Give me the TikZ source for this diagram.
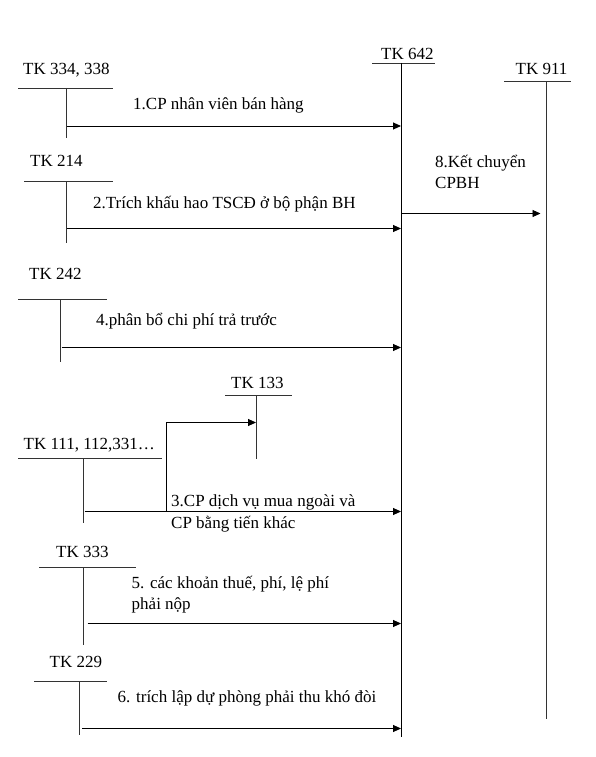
\documentclass[tikz,border=0pt]{standalone}
\usepackage{fontspec}
\setmainfont{Liberation Serif}
\usetikzlibrary{arrows.meta}
\tikzstyle{account}=[line width=0.9pt, black!80]
\tikzstyle{flow}=[line width=0.9pt, -{Triangle[length=8pt,width=7pt]}]
\tikzstyle{txt}=[inner sep=0pt, anchor=base west, font=\fontsize{17}{20}\selectfont]

\begin{document}
\begin{tikzpicture}[x=1pt, y=-1pt]
          \useasboundingbox (0, 0) rectangle (595, 757);
          \node[txt] (tk642) at (381, 60) {TK 642};
          \coordinate (v642a) at (401, 63);
          \coordinate (v642b) at (401, 737);
          \draw[account] (372, 63) -- (435, 63);
          \draw[account, black] (v642a) -- (v642b);

          \node[txt] (tk911) at (515.5, 74.5) {TK 911};
          \coordinate (v911a) at (546, 81.5);
          \coordinate (v911b) at (546, 718.5);
          \draw[account] (504, 81.5) -- (571, 81.5);
          \draw[account] (v911a) -- (v911b);

          \node[txt] (tk334) at (23, 74.5) {TK 334, 338};
          \coordinate (v334a) at (66, 88);
          \coordinate (v334b) at (66, 138);
          \draw[account] (18, 88) -- (113, 88);
          \draw[account] (v334a) -- (v334b);

          \node[txt] (tk214) at (30, 166) {TK 214};
          \coordinate (v214a) at (66, 181);
          \coordinate (v214b) at (66, 243);
          \draw[account] (24, 181) -- (113, 181);
          \draw[account] (v214a) -- (v214b);

          \node[txt] (tk242) at (29, 279.5) {TK 242};
          \coordinate (v242a) at (60.5, 299);
          \coordinate (v242b) at (60.5, 362);
          \draw[account] (18, 299) -- (107, 299);
          \draw[account] (v242a) -- (v242b);

          \node[txt] (tk133) at (231, 388.5) {TK 133};
          \coordinate (v133a) at (256, 395);
          \coordinate (v133b) at (256, 458.5);
          \draw[account] (225, 395) -- (292, 395);
          \draw[account] (v133a) -- (v133b);

          \node[txt] (tk111) at (23.5, 449.5) {TK 111, 112,331…};
          \coordinate (v111a) at (83.5, 458.5);
          \coordinate (v111b) at (83.5, 522.5);
          \draw[account] (18, 458.5) -- (162, 458.5);
          \draw[account] (v111a) -- (v111b);

          \node[txt] (tk333) at (56, 557.5) {TK 333};
          \coordinate (v333a) at (83.5, 567);
          \coordinate (v333b) at (83.5, 645);
          \draw[account] (39, 567) -- (136, 567);
          \draw[account] (v333a) -- (v333b);

          \node[txt] (tk229) at (49.5, 667) {TK 229};
          \coordinate (v229a) at (79, 681);
          \coordinate (v229b) at (79, 735);
          \draw[account] (34, 681) -- (107, 681);
          \draw[account] (v229a) -- (v229b);

          \coordinate (f1) at (67, 126);
          \coordinate (f2) at (67, 228.5);
          \coordinate (f4) at (61.5, 347.5);
          \coordinate (f3) at (84.5, 511.5);
          \coordinate (br3) at (166.5, 511.5);
          \coordinate (f133) at (256, 422.5);
          \coordinate (f5) at (87.5, 623.5);
          \coordinate (f6) at (82, 728.5);
          \coordinate (f8) at (401, 213.5);

          \draw[flow] (f1) -- (f1 -| v642a);
          \draw[flow] (f2) -- (f2 -| v642a);
          \draw[flow] (f4) -- (f4 -| v642a);
          \draw[flow] (f3) -- (f3 -| v642a);
          \draw[flow] (br3) |- (f133);
          \draw[flow] (f5) -- (f5 -| v642a);
          \draw[flow] (f6) -- (f6 -| v642a);
          \draw[flow, shorten >=5.5pt] (f8) -- (f8 -| v911a);

          \node[txt] (t1) at (133, 109.5) {1.CP nhân viên bán hàng};
          \node[txt] (t2) at (93, 208.5) {2.Trích khấu hao TSCĐ ở bộ phận BH};
          \node[txt] (t8) at (435, 167) {8.Kết chuyển};
          \node[txt] (t8b) at (435, 188.5) {CPBH};
          \node[txt] (t4) at (96, 325) {4.phân bổ chi phí trả trước};
          \node[txt] (t3) at (171, 506) {3.CP dịch vụ mua ngoài và};
          \node[txt] (t3b) at (171, 528.5) {CP bằng tiến khác};
          \node[txt] (t5) at (131.5, 588) {5. các khoản thuế, phí, lệ phí};
          \node[txt] (t5b) at (131.5, 609) {phải nộp};
          \node[txt] (t6) at (117.5, 702) {6. trích lập dự phòng phải thu khó đòi};
        \end{tikzpicture}
\end{document}
